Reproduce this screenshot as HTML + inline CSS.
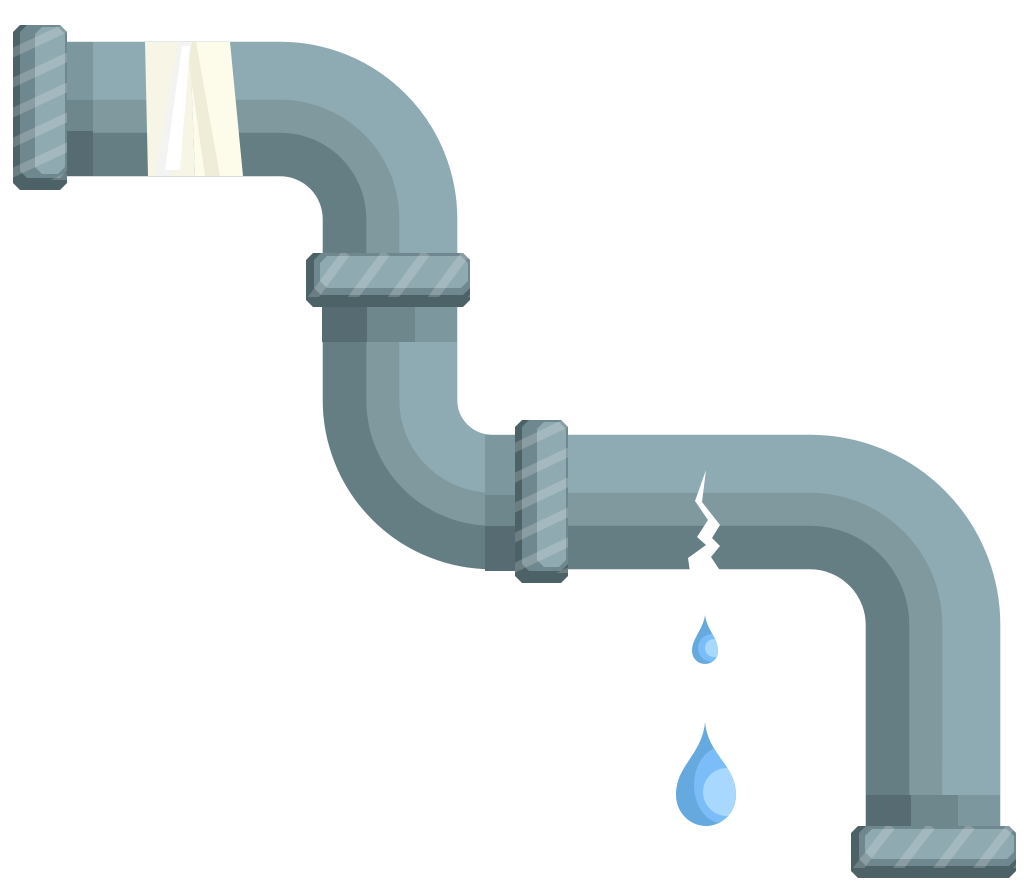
<!DOCTYPE html>
<html><head><meta charset="utf-8"><style>html,body{margin:0;padding:0;background:#fff}svg{display:block}</style></head>
<body>
<svg width="1027" height="894" viewBox="0 0 1027 894">
<defs>
<clipPath id="sd"><path d="M705,615 C703,630 692,638 692,651 A13,13 0 0 0 718,651 C718,638 707,630 705,615Z"/></clipPath>
<clipPath id="ld"><path d="M705,722 C702,755 676,765 676,795 A30,31 0 0 0 736,795 C736,765 708,755 705,722Z"/></clipPath>
</defs>
<g id="pipe"></g>
<g>
<rect x="67" y="42" width="26" height="58" fill="#7C979E"/>
<rect x="67" y="100" width="26" height="31" fill="#6E878D"/>
<rect x="67" y="131" width="26" height="45" fill="#566C72"/>
<rect x="322" y="307" width="45" height="35" fill="#566C72"/>
<rect x="367" y="307" width="48" height="35" fill="#6E878D"/>
<rect x="415" y="307" width="42" height="35" fill="#7C979E"/>
<rect x="485" y="435" width="30" height="60" fill="#7C979E"/>
<rect x="485" y="495" width="30" height="31" fill="#6E878D"/>
<rect x="485" y="526" width="30" height="45" fill="#566C72"/>
<rect x="866" y="795" width="45" height="31" fill="#566C72"/>
<rect x="911" y="795" width="47" height="31" fill="#6E878D"/>
<rect x="958" y="795" width="42" height="31" fill="#7C979E"/>
</g>
<g>
<polygon points="145,42 190,42 195,176 148,176" fill="#F6F5E6"/>
<polygon points="190,42 230,42 243,176 195,176" fill="#FDFCEB"/>
<polygon points="186,42 196,42 220,176 205,176" fill="#EFECD8"/>
<polygon points="178,42 192,42 170,176 155,176" fill="#F3F3F1"/>
<polygon points="182,46 190,46 180,170 165,170" fill="#FFFFFF"/>
</g>
<g id="flanges"></g>
<polygon fill="#FFFFFF" points="706,470 695,501 708,520 697,537 706,545 688,558 690,572 721,572 711,557 720,546 712,538 720,525 702,502"/>
<g>
<path d="M705,615 C703,630 692,638 692,651 A13,13 0 0 0 718,651 C718,638 707,630 705,615Z" fill="#66A9DE"/>
<g clip-path="url(#sd)">
<circle cx="712" cy="648" r="14" fill="#7BBDF9"/>
<circle cx="714" cy="648" r="9" fill="#A8D8FD"/>
</g>
</g>
<g>
<path d="M705,722 C702,755 676,765 676,795 A30,31 0 0 0 736,795 C736,765 708,755 705,722Z" fill="#66A9DE"/>
<g clip-path="url(#ld)">
<ellipse cx="722" cy="785" rx="28" ry="38" fill="#7BBDF9"/>
<circle cx="727" cy="792" r="24" fill="#A8D8FD"/>
</g>
</g>
</svg>
<script>
var NS='http://www.w3.org/2000/svg';
var pipe=document.getElementById('pipe');
var bands=[[0,58,'#8EAAB2'],[58,91,'#7F999F'],[91,134,'#647E84']];
bands.forEach(function(b){
  var d=(b[0]+b[1])/2,w=b[1]-b[0];
  var p=document.createElementNS(NS,'path');
  
  
  var s='M67,'+(42+d)+' H280 A'+(177-d)+','+(177-d)+' 0 0 1 '+(457-d)+',219 V400 A'+(35+d)+','+(35+d)+' 0 0 0 492,'+(435+d)+' H810 A'+(190-d)+','+(190-d)+' 0 0 1 '+(1000-d)+',627 V826';
  p.setAttribute('d',s);p.setAttribute('fill','none');p.setAttribute('stroke',b[2]);p.setAttribute('stroke-width',w+0.6);
  pipe.appendChild(p);
});
var fl=document.getElementById('flanges');
function flange(x,y,w,h,vert,name){
  var g=document.createElementNS(NS,'g');
  
  
  var c=7;
  function poly(x,y,w,h,col){var p=document.createElementNS(NS,'polygon');
    p.setAttribute('points',[x+c,y,x+w-c,y,x+w,y+c,x+w,y+h-c,x+w-c,y+h,x+c,y+h,x,y+h-c,x,y+c].join(' '));p.setAttribute('fill',col);g.appendChild(p);}
  poly(x,y,w,h,'#4D6267');
  if(vert){poly(x+7,y,w-7,h-12,'#6F888F');poly(x+22,y+2,w-24,h-18,'#8FAAB1');}
  else{poly(x+8,y,w-8,h-12,'#6F888F');poly(x+14,y+3,w-16,h-22,'#8FAAB1');}
  var clip=document.createElementNS(NS,'clipPath');var id='c'+name;clip.setAttribute('id',id);
  var r=document.createElementNS(NS,'rect');r.setAttribute('x',x);r.setAttribute('y',y);r.setAttribute('width',w);r.setAttribute('height',h-10);clip.appendChild(r);g.appendChild(clip);
  var sg=document.createElementNS(NS,'g');sg.setAttribute('clip-path','url(#'+id+')');
  for(var i=-10;i<12;i++){var l=document.createElementNS(NS,'line');
    if(vert){l.setAttribute('x1',x-5);l.setAttribute('y1',y+i*30+30);l.setAttribute('x2',x+w+5);l.setAttribute('y2',y+i*30);}
    else{l.setAttribute('x1',x+i*40);l.setAttribute('y1',y+h);l.setAttribute('x2',x+i*40+40);l.setAttribute('y2',y);}
    l.setAttribute('stroke','rgba(255,255,255,0.18)');l.setAttribute('stroke-width','9');sg.appendChild(l);}
  g.appendChild(sg);fl.appendChild(g);
}
flange(13,25,54,165,true,'top-left-flange');
flange(306,253,164,54,false,'middle-flange');
flange(515,420,53,163,true,'lower-flange');
flange(851,826,165,52,false,'bottom-flange');
</script>
</body></html>
